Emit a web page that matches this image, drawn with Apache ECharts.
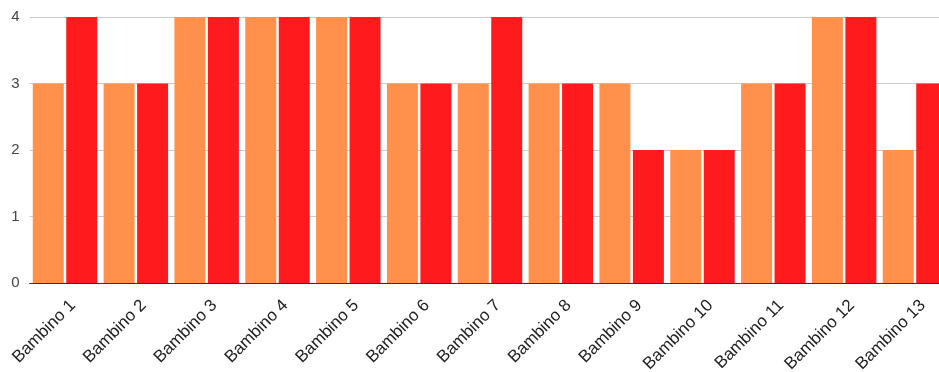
<!DOCTYPE html>
<html><head><meta charset="utf-8">
<script src="https://cdn.jsdelivr.net/npm/echarts@6/dist/echarts.min.js"></script>
<style>html,body{margin:0;padding:0;background:#fff;}#c{width:939px;height:372px;}</style>
</head><body><div id="c"></div>
<script>
const categories = ['Bambino 1','Bambino 2','Bambino 3','Bambino 4','Bambino 5','Bambino 6','Bambino 7','Bambino 8','Bambino 9','Bambino 10','Bambino 11','Bambino 12','Bambino 13'];
const seriesA = [3,3,4,4,4,3,3,3,3,2,3,4,2];
const seriesB = [4,3,4,4,4,3,4,3,2,2,3,4,3];
const yTicks = [0,1,2,3,4];

const chart = echarts.init(document.getElementById('c'));
chart.setOption({
  animation: false,
  grid: {left: 29.6, top: 17, width: 920.8, height: 266, containLabel: false, outerBoundsMode: 'none'},
  xAxis: {
    type: 'category', data: categories,
    axisTick: {show: false},
    axisLine: {lineStyle: {color: '#333', width: 1}},
    axisLabel: {rotate: 45, color: '#222', fontSize: 17, fontFamily: 'Liberation Sans, Arial, sans-serif', margin: 12, verticalAlign: 'top', lineHeight: 22, interval: 0}
  },
  yAxis: {
    type: 'value', min: yTicks[0], max: yTicks[yTicks.length-1], interval: 1,
    axisLabel: {color: '#444', fontSize: 15, fontFamily: 'Liberation Sans, Arial, sans-serif', margin: 10},
    splitLine: {lineStyle: {color: '#cccccc'}}
  },
  series: [
    {type: 'bar', data: seriesA, barWidth: 31, barGap: '8%', itemStyle: {color: '#FF914D'}},
    {type: 'bar', data: seriesB, barWidth: 31, barGap: '8%', itemStyle: {color: '#FF1A1E'}}
  ]
});
</script></body></html>
